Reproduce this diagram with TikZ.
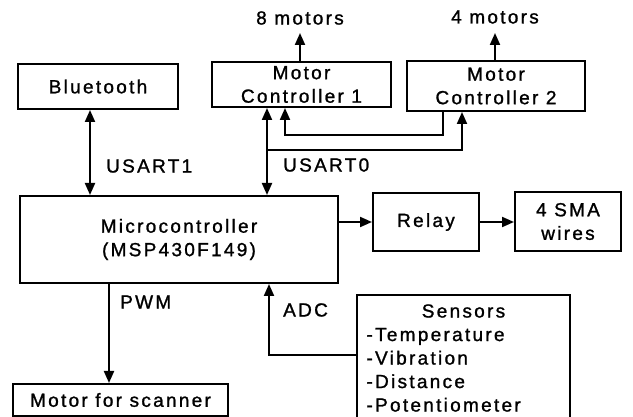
\documentclass[tikz,border=0pt]{standalone}
\usepackage{fontspec}
\setmainfont{Liberation Sans}[LetterSpace=12, FakeBold=1.2]
\usetikzlibrary{arrows.meta}

\tikzset{
  box/.style={draw, line width=2pt, align=center, inner sep=2pt},
  lbl/.style={anchor=west, inner sep=0pt},
  arr/.style={line width=2pt, -{Triangle[length=12pt,width=10pt]}},
  darr/.style={line width=2pt, {Triangle[length=12pt,width=10pt]}-{Triangle[length=12pt,width=10pt]}}
}

\begin{document}
\begin{tikzpicture}[x=1pt, y=-1pt, font=\fontsize{19}{23.5}\selectfont]
        \useasboundingbox (0,0) rectangle (633,417);
        \clip (0,0) rectangle (633,417);

        % Blocs
        \node[box, minimum width=160, minimum height=45] (bt) at (98,86.5) {Bluetooth};
        \node[box, minimum width=179, minimum height=45] (mc1) at (301.5,84.5) {Motor\\Controller 1};
        \node[box, minimum width=178, minimum height=50] (mc2) at (496,86) {Motor\\Controller 2};
        \node[box, minimum width=318, minimum height=87] (micro) at (179,239.5) {Microcontroller\\(MSP430F149)};
        \node[box, minimum width=106, minimum height=58] (relay) at (426,222) {Relay};
        \node[box, minimum width=106, minimum height=59] (sma) at (568,221.5) {4 SMA\\wires};
        \node[box, minimum width=215, minimum height=32] (motor) at (120.5,400) {Motor for scanner};
        \node[box, anchor=north west, text width=194, align=left, inner xsep=8pt,
              minimum width=213, minimum height=126] (sensors) at (356,294)
              {\makebox[\linewidth][c]{Sensors}\\-Temperature\\-Vibration\\-Distance\\-Potentiometer};

        % Moteurs
        \node (m8) at (300,18) {8 motors};
        \node (m4) at (495,17) {4 motors};
        \coordinate (m8tip) at (300,33);
        \coordinate (m4tip) at (495,33);
        \draw[arr] (mc1.north -| m8tip) -- (m8tip);
        \draw[arr] (mc2.north -| m4tip) -- (m4tip);

        % Liaisons serie
        \draw[darr] (bt.south -| 90,0) -- (micro.north -| 90,0);
        \draw[darr] (mc1.south -| 267,0) -- (micro.north -| 267,0);
        \draw[arr] (267,150) -| (mc2.south -| 462,0);
        \draw[arr] (mc2.south -| 443,0) |- (285,135) -- (mc1.south -| 285,0);
        \node[lbl] (usart1) at (106,166) {USART1};
        \node[lbl] (usart0) at (283,165) {USART0};

        % Sorties
        \draw[arr] (micro.east |- relay) -- (relay.west);
        \draw[arr] (relay.east) -- (relay.east -| sma.west);
        \draw[arr] (micro.south -| 109,0) -- (motor.north -| 109,0);
        \node[lbl] (pwm) at (120,302) {PWM};

        % Capteurs
        \draw[arr] (sensors.west |- 0,355) -| (micro.south -| 269,0);
        \node[lbl] (adc) at (283,310) {ADC};
\end{tikzpicture}
\end{document}
